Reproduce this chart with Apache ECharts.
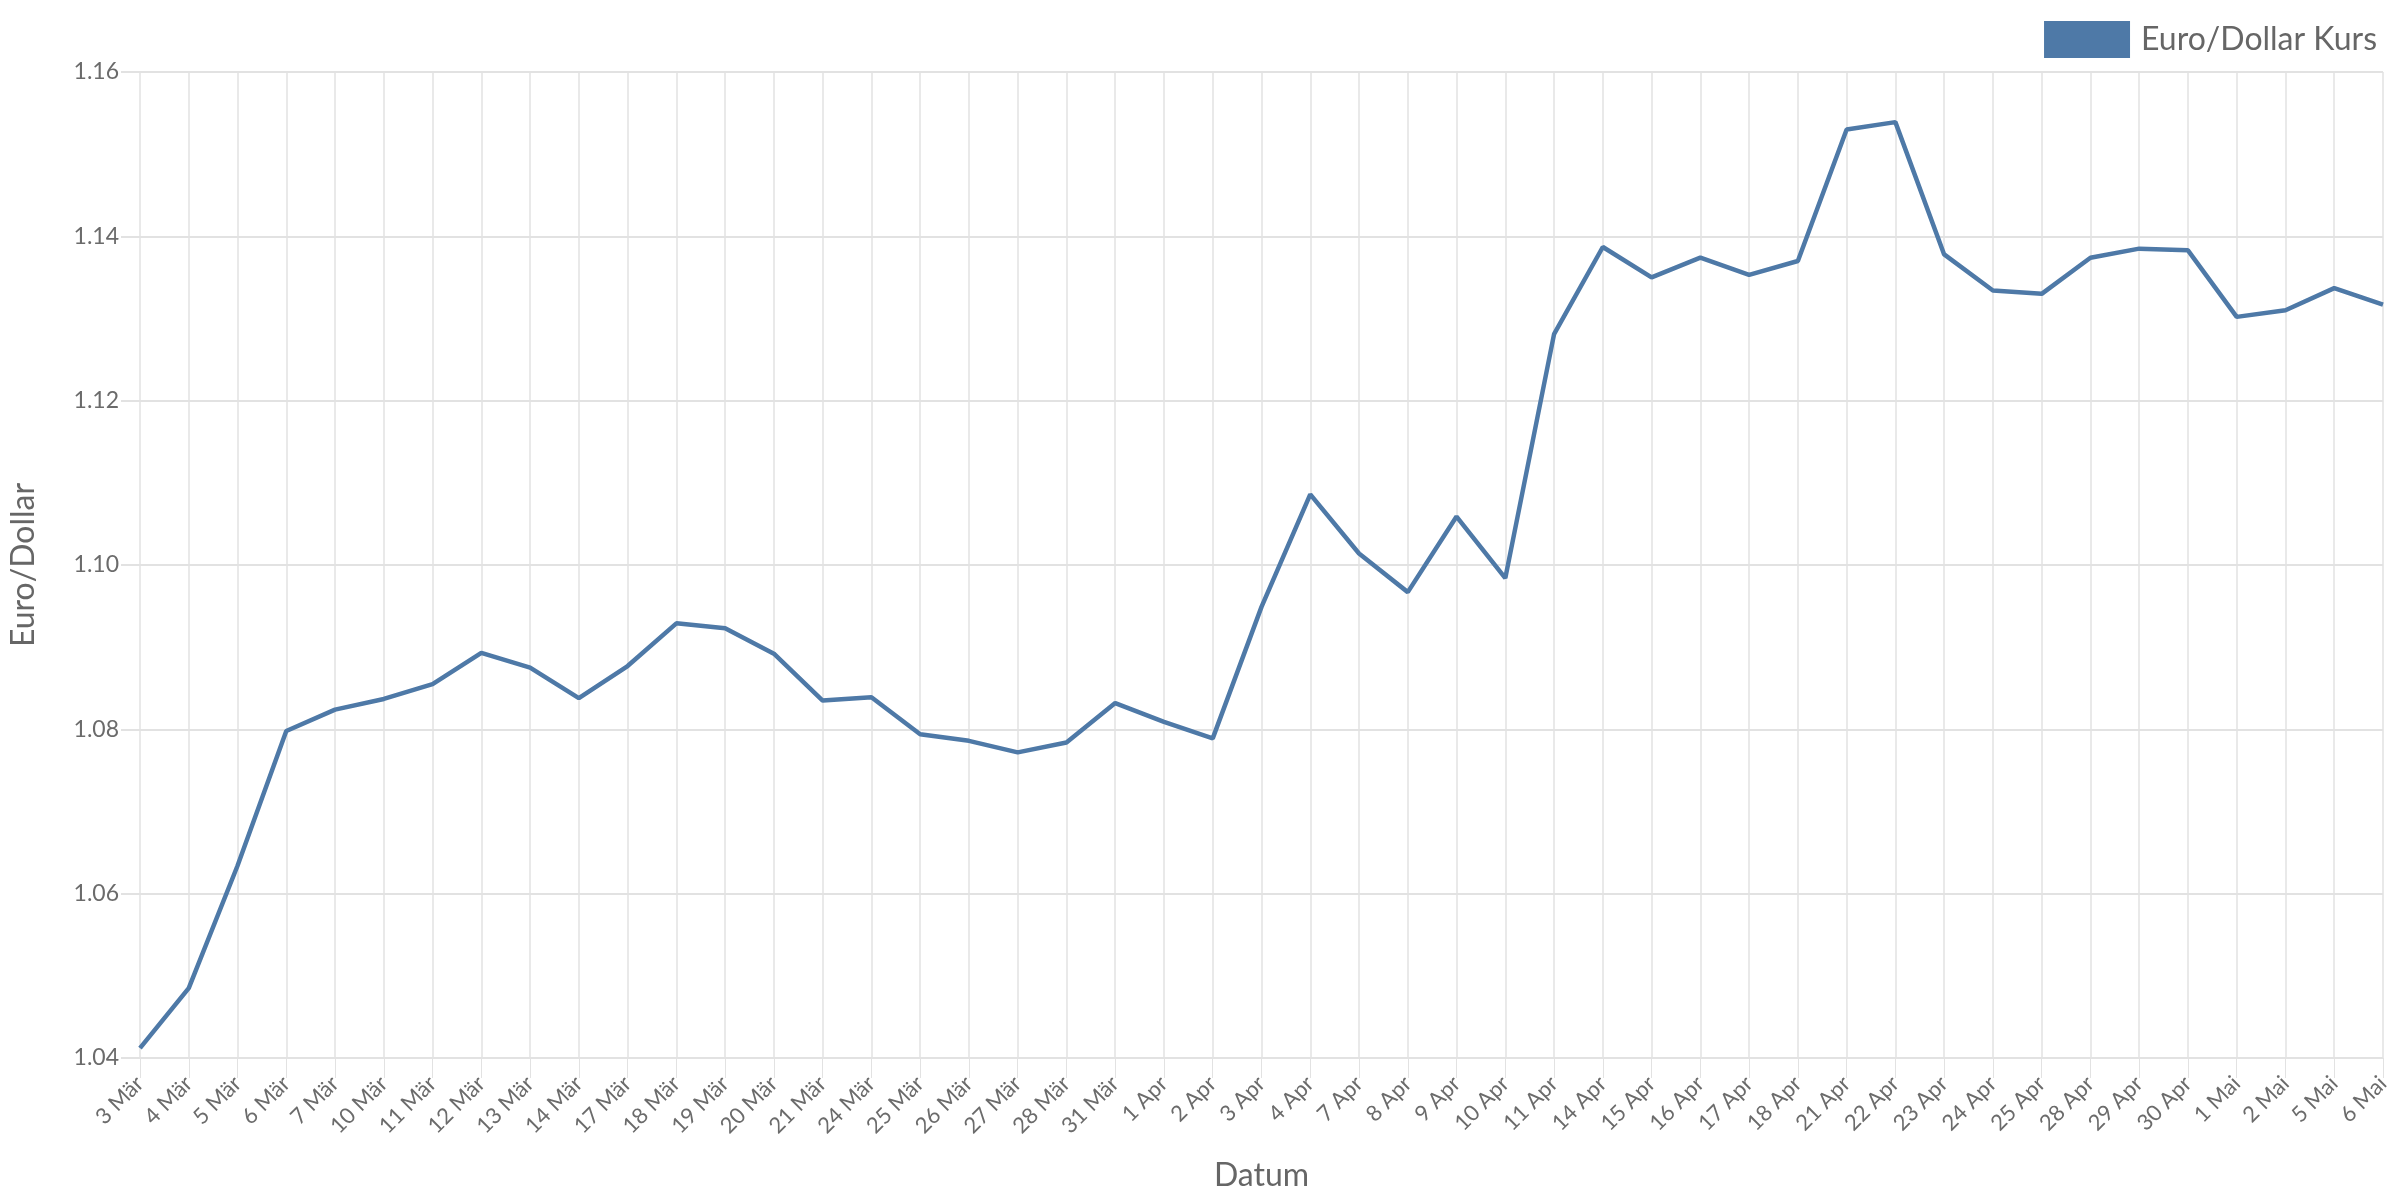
<!DOCTYPE html>
<html><head><meta charset="utf-8">
<script src="https://cdn.jsdelivr.net/npm/echarts@6/dist/echarts.min.js"></script>
<style>html,body{margin:0;padding:0;background:#fff}#c{width:2400px;height:1200px}</style>
</head><body><div id="c"></div>
<script>
const categories = ["3 Mär","4 Mär","5 Mär","6 Mär","7 Mär","10 Mär","11 Mär","12 Mär","13 Mär","14 Mär","17 Mär","18 Mär","19 Mär","20 Mär","21 Mär","24 Mär","25 Mär","26 Mär","27 Mär","28 Mär","31 Mär","1 Apr","2 Apr","3 Apr","4 Apr","7 Apr","8 Apr","9 Apr","10 Apr","11 Apr","14 Apr","15 Apr","16 Apr","17 Apr","18 Apr","21 Apr","22 Apr","23 Apr","24 Apr","25 Apr","28 Apr","29 Apr","30 Apr","1 Mai","2 Mai","5 Mai","6 Mai"];
const kurs = [1.0412,1.0485,1.0634,1.0798,1.0824,1.0837,1.0855,1.0893,1.0875,1.0838,1.0877,1.0929,1.0923,1.0892,1.0835,1.0839,1.0794,1.0786,1.0772,1.0784,1.0832,1.0809,1.0789,1.0949,1.1086,1.1014,1.0967,1.1059,1.0984,1.1281,1.1387,1.1350,1.1374,1.1353,1.1370,1.1530,1.1539,1.1378,1.1334,1.1330,1.1374,1.1385,1.1383,1.1302,1.1310,1.1337,1.1317];
const seriesName = "Euro/Dollar Kurs";
const xName = "Datum";
const yName = "Euro/Dollar";

const chart = echarts.init(document.getElementById('c'));
const font = "Lato, 'Liberation Sans', sans-serif";
chart.setOption({
  animation: false,
  textStyle: {fontFamily: font},
  legend: {
    right: 18, top: 16, icon: 'rect', itemWidth: 86, itemHeight: 37, itemGap: 10,
    textStyle: {fontSize: 32, color: '#666', fontFamily: font, padding: [0, 0, 0, 6]},
    data: [seriesName]
  },
  grid: {left: 136, right: 17, top: 72, bottom: 142},
  xAxis: {
    type: 'category', data: categories, boundaryGap: false,
    name: xName, nameLocation: 'middle', nameGap: 102,
    nameTextStyle: {fontSize: 32, color: '#666', fontFamily: font},
    axisLine: {show: false},
    axisTick: {show: true, length: 20, lineStyle: {color: '#e2e2e2'}},
    axisLabel: {rotate: 45, fontSize: 22, color: '#6b6b6b', fontFamily: font, margin: 22, interval: 0},
    splitLine: {show: true, lineStyle: {color: '#e2e2e2', width: 1.5}}
  },
  yAxis: {
    type: 'value', min: 1.04, max: 1.16, interval: 0.02,
    name: yName, nameLocation: 'middle', nameGap: 100,
    nameTextStyle: {fontSize: 32, color: '#666', fontFamily: font},
    axisLine: {show: false},
    axisTick: {show: true, length: 19, lineStyle: {color: '#e2e2e2', width: 2}},
    axisLabel: {fontSize: 23, color: '#6b6b6b', formatter: v => v.toFixed(2), margin: 21, fontFamily: font},
    splitLine: {show: true, lineStyle: {color: '#e2e2e2', width: 2}}
  },
  series: [{
    name: seriesName, type: 'line', data: kurs, showSymbol: false, symbol: 'none',
    lineStyle: {color: '#4e79a7', width: 4.5}, itemStyle: {color: '#4e79a7'}
  }]
});
</script></body></html>
